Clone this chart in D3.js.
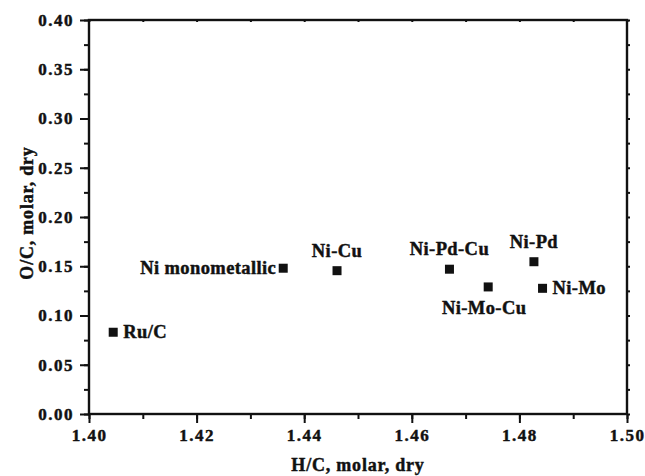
<!DOCTYPE html>
<html>
<head>
<meta charset="utf-8">
<script src="https://cdn.jsdelivr.net/npm/d3@7"></script>
<style>
  body { margin: 0; background: #fff; }
  svg text { font-family: "Liberation Serif", "Times New Roman", serif; font-weight: bold; fill: #111; stroke: #111; stroke-width: 0.45px; }
</style>
</head>
<body>
<div id="chart"></div>
<script>
// catalysts and their dry molar ratios
const catalysts = ["Ru/C", "Ni monometallic", "Ni-Cu", "Ni-Pd-Cu", "Ni-Mo-Cu", "Ni-Pd", "Ni-Mo"]
const hc = [1.4045, 1.4361, 1.4461, 1.4670, 1.4742, 1.4827, 1.4843]
const oc = [0.083, 0.148, 0.1455, 0.147, 0.129, 0.1546, 0.1276]
// where each label sits relative to its marker
const labelSide = ["right", "left", "top", "top", "bottom", "top", "right"]

const xTicks = [1.40, 1.42, 1.44, 1.46, 1.48, 1.50]
const yTicks = [0.00, 0.05, 0.10, 0.15, 0.20, 0.25, 0.30, 0.35, 0.40]

const width = 645, height = 476
const margin = {top: 20, right: 18, bottom: 62, left: 89}

const svg = d3.select("#chart").append("svg")
    .attr("width", width)
    .attr("height", height)

const x = d3.scaleLinear().domain([1.40, 1.50]).range([margin.left, width - margin.right])
const y = d3.scaleLinear().domain([0, 0.40]).range([height - margin.bottom, margin.top])

const xMinor = d3.range(0, 11).map(i => 1.40 + i * 0.01)
const yMinor = d3.range(0, 17).map(i => i * 0.025)

// minor ticks first (no labels)
svg.append("g")
    .attr("transform", `translate(0,${y(0)})`)
    .call(d3.axisBottom(x).tickValues(xMinor).tickSize(5).tickFormat(""))
svg.append("g")
    .attr("transform", `translate(${x(1.40)},0)`)
    .call(d3.axisLeft(y).tickValues(yMinor).tickSize(5).tickFormat(""))
// mirrored axes top/right
svg.append("g")
    .attr("transform", `translate(0,${y(0.40)})`)
    .call(d3.axisTop(x).tickValues(xMinor).tickSize(-2).tickFormat(""))
svg.append("g")
    .attr("transform", `translate(${x(1.50)},0)`)
    .call(d3.axisRight(y).tickValues(yMinor).tickSize(3).tickFormat(""))

const xAxis = svg.append("g")
    .attr("transform", `translate(0,${y(0)})`)
    .call(d3.axisBottom(x).tickValues(xTicks).tickSize(9).tickPadding(6).tickFormat(d3.format(".2f")))
const yAxis = svg.append("g")
    .attr("transform", `translate(${x(1.40)},0)`)
    .call(d3.axisLeft(y).tickValues(yTicks).tickSize(9).tickPadding(6).tickFormat(d3.format(".2f")))

svg.selectAll(".tick line").attr("stroke", "#111").attr("stroke-width", 2)
xAxis.selectAll("text").attr("font-size", 17).attr("letter-spacing", 1.5).attr("dy", "0.72em")
yAxis.selectAll("text").attr("font-size", 17).attr("letter-spacing", 1.5)

// plain frame instead of the axis domain paths
svg.selectAll(".domain").remove()
svg.append("rect")
    .attr("x", x(1.40)).attr("y", y(0.40))
    .attr("width", x(1.50) - x(1.40)).attr("height", y(0) - y(0.40))
    .attr("fill", "none").attr("stroke", "#111").attr("stroke-width", 2.4)

svg.append("text")
    .attr("x", (x(1.40) + x(1.50)) / 2)
    .attr("y", 471)
    .attr("text-anchor", "middle")
    .attr("font-size", 18)
    .attr("letter-spacing", 0.8)
    .text("H/C, molar, dry")

svg.append("text")
    .attr("transform", `translate(33,${(y(0) + y(0.40)) / 2 - 4}) rotate(-90)`)
    .attr("text-anchor", "middle")
    .attr("font-size", 18)
    .attr("letter-spacing", 0.8)
    .text("O/C, molar, dry")

const pts = catalysts.map((name, i) => ({name, hc: hc[i], oc: oc[i], side: labelSide[i]}))
const size = 9

svg.append("g")
    .selectAll("rect")
    .data(pts)
    .join("rect")
    .attr("x", d => x(d.hc) - size / 2)
    .attr("y", d => y(d.oc) - size / 2)
    .attr("width", size)
    .attr("height", size)
    .attr("fill", "#111")

const place = {
    right: {dx: 10, dy: 6, anchor: "start"},
    left: {dx: -7, dy: 6, anchor: "end"},
    top: {dx: 0, dy: -14, anchor: "middle"},
    bottom: {dx: -4, dy: 27, anchor: "middle"}
}

svg.append("g")
    .selectAll("text")
    .data(pts)
    .join("text")
    .attr("x", d => x(d.hc) + place[d.side].dx)
    .attr("y", d => y(d.oc) + place[d.side].dy)
    .attr("text-anchor", d => place[d.side].anchor)
    .attr("font-size", 18.5)
    .attr("letter-spacing", 0.4)
    .text(d => d.name)
</script>
</body>
</html>
